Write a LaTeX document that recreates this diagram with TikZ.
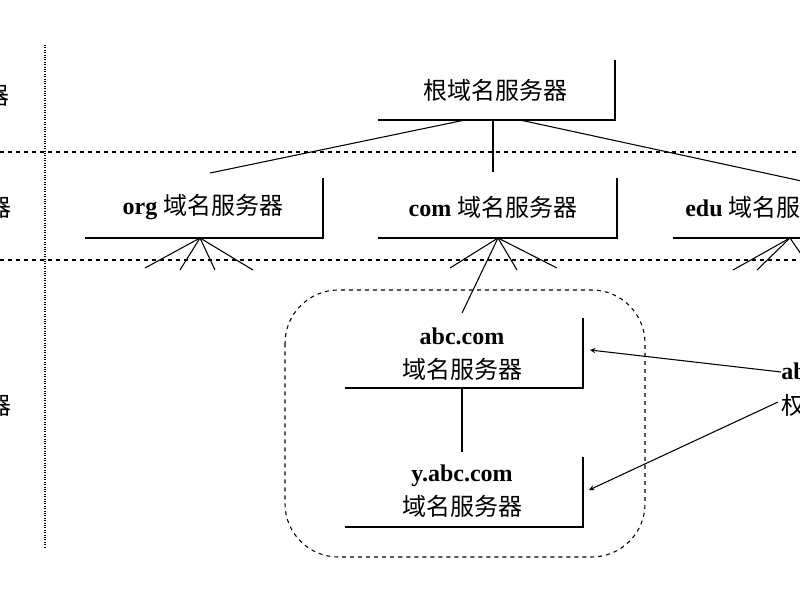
\documentclass[tikz,border=0pt]{standalone}
\usepackage{fontspec}
\setmainfont{Liberation Serif}
\newfontfamily\cjk{Noto Sans CJK SC}
\begin{document}
\begin{tikzpicture}[x=0.75pt,y=-0.75pt,
  txt/.style={inner sep=0pt,font=\fontsize{18}{22}\selectfont\bfseries},
  ln/.style={line width=1.1pt},
  thin/.style={line width=0.8pt},
  >=stealth]
\useasboundingbox (0,0) rectangle (800,600);
\clip (0,0) rectangle (800,600);
% grid lines
\draw[thin,densely dotted] (45,45) -- (45,548);
\draw[thin,dashed] (0,152) -- (800,152);
\draw[thin,dashed] (0,260) -- (800,260);
% left labels
\node[txt,anchor=east] (l1) at (10,95) {\cjk\mdseries 根域名服务器};
\node[txt,anchor=east] (l2) at (12,207) {\cjk\mdseries 顶级域名服务器};
\node[txt,anchor=east] (l3) at (12,405) {\cjk\mdseries 权限域名服务器};
% root
\node[txt] (root) at (495,90) {\cjk\mdseries 根域名服务器};
\draw[ln] (378,120) -- (615,120) -- (615,60);
\coordinate (ra) at (493,120);
% org
\node[txt] (org) at (203,207) {org {\cjk\mdseries 域名服务器}};
\draw[ln] (85,238) -- (323,238) -- (323,178);
\coordinate (oa) at (200,238);
% com
\node[txt] (com) at (493,207) {com {\cjk\mdseries 域名服务器}};
\draw[ln] (378,238) -- (617,238) -- (617,178);
\coordinate (ca) at (498,238);
% edu
\node[txt,anchor=west] (edu) at (685,207) {edu {\cjk\mdseries 域名服务器}};
\draw[ln] (673,238) -- (810,238);
\coordinate (ea) at (790,238);
% root links
\draw[thin] (465,120) -- (210,173);
\draw[thin] (ra) -- (493,172);
\draw[thin] (520,120) -- (820,185);
% spokes
\foreach \x/\y in {145/268,180/270,215/270,253/270} \draw[thin] (oa) -- (\x,\y);
\foreach \x/\y in {450/268,517/270,557/268} \draw[thin] (ca) -- (\x,\y);
\foreach \x/\y in {733/270,757/270,812/270} \draw[thin] (ea) -- (\x,\y);
% dashed zone
\draw[thin,dashed,rounded corners=40] (285,290) rectangle (645,557);
% abc
\node[txt,align=center] (abc) at (462,354) {abc.com\\[4pt]{\cjk\mdseries 域名服务器}};
\draw[ln] (345,388) -- (583,388) -- (583,318);
\draw[thin] (ca) -- (462,313);
\draw[thin] (462,388) -- (462,452);
% yabc
\node[txt,align=center] (yabc) at (462,491) {y.abc.com\\[4pt]{\cjk\mdseries 域名服务器}};
\draw[ln] (345,527) -- (583,527) -- (583,457);
% right label
\node[txt,anchor=west,align=left] (auth) at (781,390) {abc.com\\[4pt]{\cjk\mdseries 权限域名服务器}};
\draw[thin,->] (781,372) -- (590,350);
\draw[thin,->] (778,402) -- (589,490);
\end{tikzpicture}
\end{document}
